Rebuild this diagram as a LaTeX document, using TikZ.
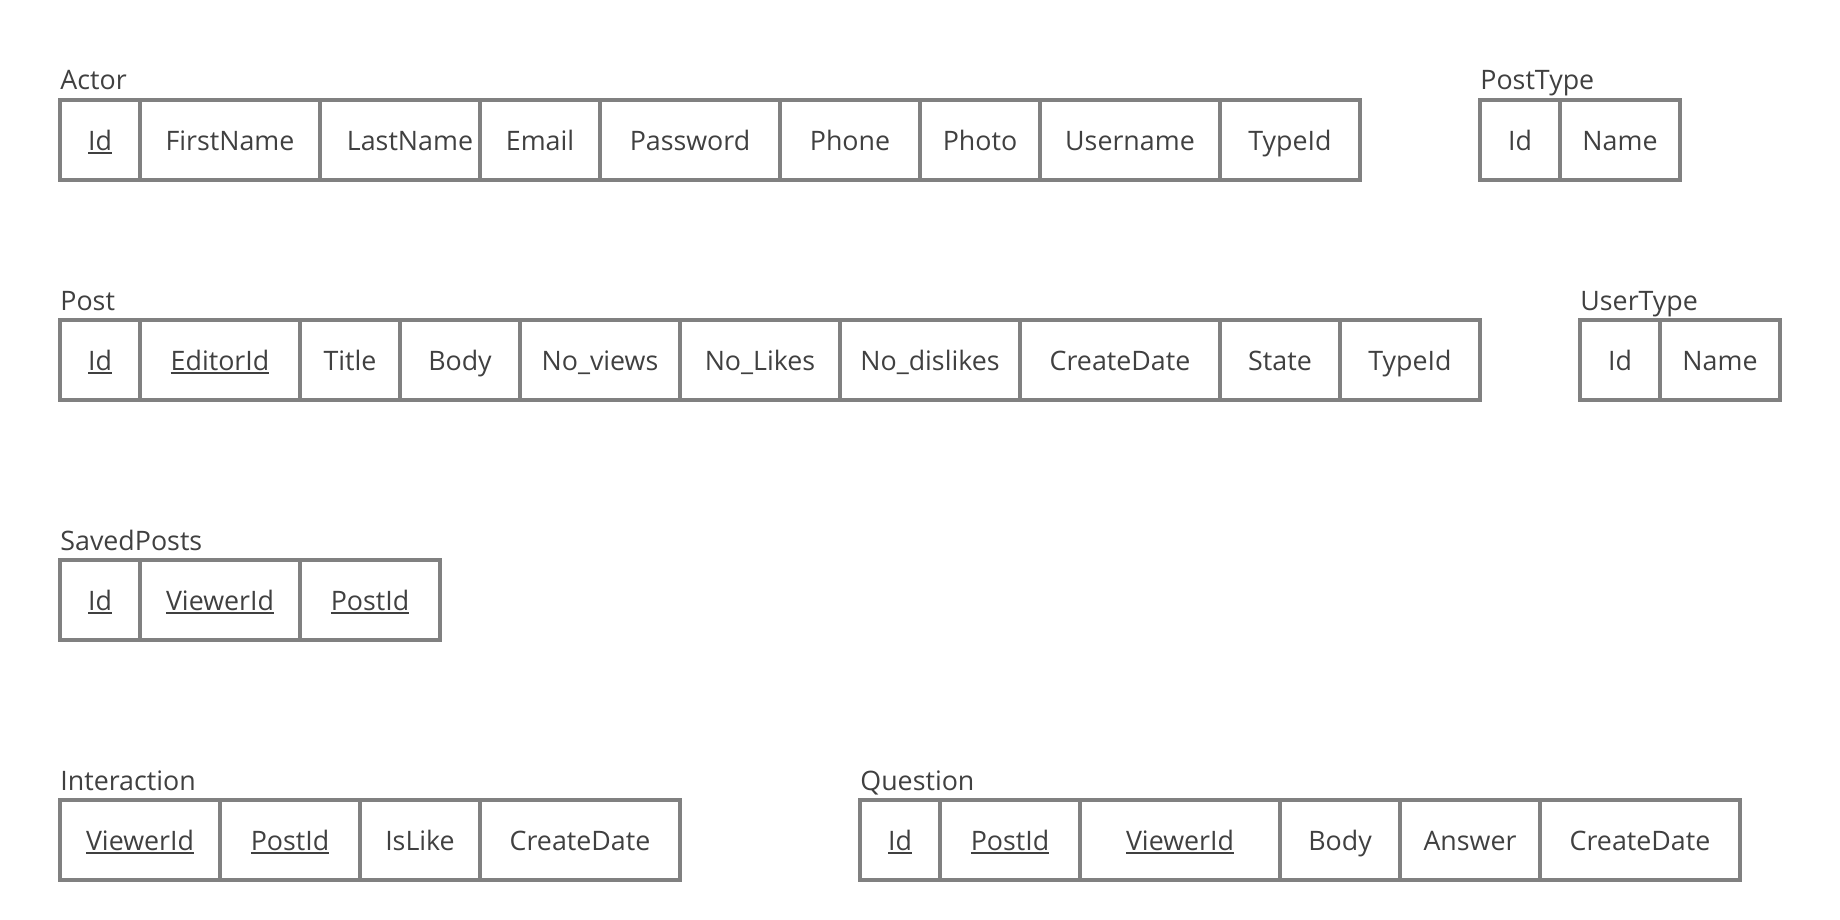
\documentclass[tikz,border=0pt]{standalone}
\usepackage{fontspec}
\setmainfont{Open Sans}
\definecolor{linegray}{HTML}{808080}
\definecolor{textgray}{HTML}{404040}
\newcommand{\keyfield}[1]{\setbox0\hbox{#1}\rlap{\rule[-1.6pt]{\wd0}{0.8pt}}\box0}
\begin{document}
\begin{tikzpicture}[x=0.5pt,y=-0.5pt,
  cell/.style={draw=linegray,line width=1.65pt,minimum height=40pt,inner sep=0pt,
    text=textgray,font=\fontsize{13.4pt}{15pt}\selectfont,text height=10.4pt,text depth=0pt},
  tablename/.style={anchor=base west,inner sep=0pt,text=textgray,
    font=\fontsize{13.4pt}{15pt}\selectfont}]
\useasboundingbox (0,0) rectangle (1840,920);

% Actor
\node[tablename] (actor) at (60,90) {Actor};
\foreach \i/\l/\r/\txt in {1/60/140/\keyfield{Id},2/140/320/FirstName,
    3/320/480/\hspace*{10pt}LastName,4/480/600/Email,5/600/780/Password,
    6/780/920/Phone,7/920/1040/Photo,8/1040/1220/Username,9/1220/1360/TypeId}
  \node[cell,minimum width={(\r-\l)*0.5pt}] (actor-\i) at ({(\l+\r)/2},140) {\txt};

% PostType
\node[tablename] (posttype) at (1480,90) {PostType};
\foreach \i/\l/\r/\txt in {1/1480/1560/Id,2/1560/1680/Name}
  \node[cell,minimum width={(\r-\l)*0.5pt}] (posttype-\i) at ({(\l+\r)/2},140) {\txt};

% Post
\node[tablename] (post) at (60,310) {Post};
\foreach \i/\l/\r/\txt in {1/60/140/\keyfield{Id},2/140/300/\keyfield{EditorId},
    3/300/400/Title,4/400/520/Body,5/520/680/No\_views,6/680/840/No\_Likes,
    7/840/1020/No\_dislikes,8/1020/1220/CreateDate,9/1220/1340/State,10/1340/1480/TypeId}
  \node[cell,minimum width={(\r-\l)*0.5pt}] (post-\i) at ({(\l+\r)/2},360) {\txt};

% UserType
\node[tablename] (usertype) at (1580,310) {UserType};
\foreach \i/\l/\r/\txt in {1/1580/1660/Id,2/1660/1780/Name}
  \node[cell,minimum width={(\r-\l)*0.5pt}] (usertype-\i) at ({(\l+\r)/2},360) {\txt};

% SavedPosts
\node[tablename] (savedposts) at (60,550) {SavedPosts};
\foreach \i/\l/\r/\txt in {1/60/140/\keyfield{Id},2/140/300/\keyfield{ViewerId},
    3/300/440/\keyfield{PostId}}
  \node[cell,minimum width={(\r-\l)*0.5pt}] (savedposts-\i) at ({(\l+\r)/2},600) {\txt};

% Interaction
\node[tablename] (interaction) at (60,790) {Interaction};
\foreach \i/\l/\r/\txt in {1/60/220/\keyfield{ViewerId},2/220/360/\keyfield{PostId},
    3/360/480/IsLike,4/480/680/CreateDate}
  \node[cell,minimum width={(\r-\l)*0.5pt}] (interaction-\i) at ({(\l+\r)/2},840) {\txt};

% Question
\node[tablename] (question) at (860,790) {Question};
\foreach \i/\l/\r/\txt in {1/860/940/\keyfield{Id},2/940/1080/\keyfield{PostId},
    3/1080/1280/\keyfield{ViewerId},4/1280/1400/Body,5/1400/1540/Answer,
    6/1540/1740/CreateDate}
  \node[cell,minimum width={(\r-\l)*0.5pt}] (question-\i) at ({(\l+\r)/2},840) {\txt};
\end{tikzpicture}
\end{document}
